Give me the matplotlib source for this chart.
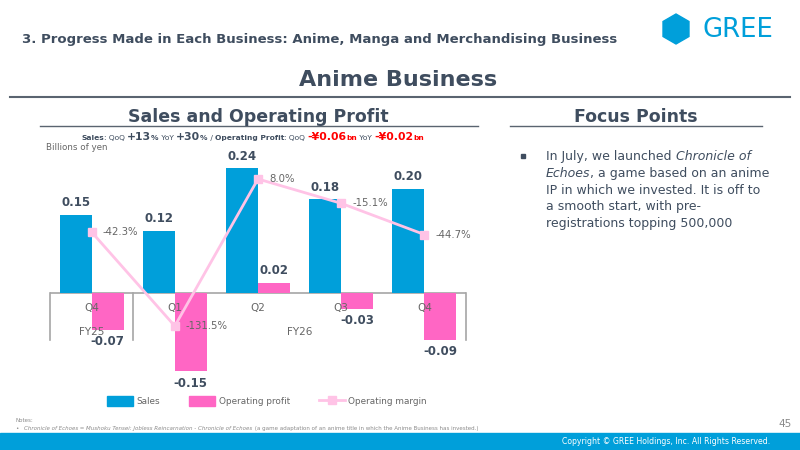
import matplotlib
matplotlib.use("Agg")
import matplotlib.pyplot as plt
from matplotlib.patches import RegularPolygon, Rectangle, Patch
from matplotlib.lines import Line2D

# Data
quarters = ["Q4", "Q1", "Q2", "Q3", "Q4"]
fiscal_years = ["FY25", "FY26"]
fy_groups = [[0], [1, 2, 3, 4]]
sales = [0.15, 0.12, 0.24, 0.18, 0.20]
op_profit = [-0.07, -0.15, 0.02, -0.03, -0.09]
op_margin = [-42.3, -131.5, 8.0, -15.1, -44.7]

DARK = "#3f4d5f"
GRAY = "#666666"
BLUE = "#009fda"
PINK = "#ff66c4"
LIGHT_PINK = "#ffc3e6"

plt.rcParams["font.family"] = ["DejaVu Sans"]

fig = plt.figure(figsize=(8, 4.5), dpi=100)

# slide background layer in pixel coordinates
bg = fig.add_axes([0, 0, 1, 1], zorder=0)
bg.set_xlim(0, 800)
bg.set_ylim(450, 0)
bg.axis("off")


def run_text(x, y, pieces):
    """draw a row of differently styled text pieces on one baseline"""
    renderer = fig.canvas.get_renderer()
    for s, kw in pieces:
        t = bg.text(x, y, s, va="baseline", ha="left", **kw)
        x += t.get_window_extent(renderer).width
    return x


# header
bg.text(22, 40, "3. Progress Made in Each Business: Anime, Manga and Merchandising Business",
        fontweight="bold", fontsize=9.5, color=DARK, va="center")
bg.add_patch(RegularPolygon((676, 29), 6, radius=15, color=BLUE))
bg.text(702, 37, "GREE", fontsize=18.7, color=BLUE, va="baseline")
bg.text(398, 80, "Anime Business", fontweight="bold", fontsize=16,
        color=DARK, ha="center", va="center")
bg.plot([10, 790], [97, 97], color="#5a6470", lw=1.5)

bg.text(258, 117, "Sales and Operating Profit", fontweight="bold", fontsize=12.5,
        color=DARK, ha="center", va="center")
bg.plot([40, 478], [126, 126], color="#5a6470", lw=1)
bg.text(636, 117, "Focus Points", fontweight="bold", fontsize=12.5,
        color=DARK, ha="center", va="center")
bg.plot([510, 762], [126, 126], color="#5a6470", lw=1)

small = dict(fontsize=5.4, color=DARK)
small_b = dict(fontsize=5.4, color=DARK, fontweight="bold")
big_b = dict(fontsize=7.8, color=DARK, fontweight="bold")
red_b = dict(fontsize=7.8, color="red", fontweight="bold")
red_s = dict(fontsize=5.4, color="red", fontweight="bold")
run_text(81, 140, [("Sales", small_b), (": QoQ ", small), ("+13", big_b), ("%", small_b),
                   (" YoY ", small), ("+30", big_b), ("%", small_b), (" / ", small),
                   ("Operating Profit", small_b), (": QoQ ", small), ("-¥0.06", red_b),
                   ("bn", red_s), (" YoY ", small), ("-¥0.02", red_b), ("bn", red_s)])
bg.text(46, 148, "Billions of yen", fontsize=6.3, color=GRAY, va="center")

# focus points
body = dict(fontsize=9, color=DARK)
body_i = dict(fontsize=9, color=DARK, style="italic")
bg.add_patch(Rectangle((521, 154), 4, 4, color=DARK))
run_text(546, 160, [("In July, we launched ", body), ("Chronicle of", body_i)])
run_text(546, 177, [("Echoes", body_i), (", a game based on an anime", body)])
run_text(546, 194, [("IP in which we invested. It is off to", body)])
run_text(546, 210, [("a smooth start, with pre-", body)])
run_text(546, 227, [("registrations topping 500,000", body)])

# notes and footer
note = dict(fontsize=4.0, color="#8a8a8a")
note_i = dict(fontsize=4.0, color="#8a8a8a", style="italic")
bg.text(15, 422, "Notes:", va="baseline", **note)
bg.text(15, 430, "\u2022", va="baseline", **note)
run_text(24, 430, [("Chronicle of Echoes", note_i), (" = ", note),
                   ("Mushoku Tensei: Jobless Reincarnation - Chronicle of Echoes", note_i),
                   (" (a game adaptation of an anime title in which the Anime Business has invested.)", note)])
bg.text(785, 424, "45", fontsize=7.5, color="#8a8a8a", ha="center", va="center")
bg.add_patch(Rectangle((0, 433), 800, 17, color=BLUE))
bg.text(770, 442, "Copyright \u00a9 GREE Holdings, Inc. All Rights Reserved.",
        fontsize=5.6, color="white", ha="right", va="center")

# chart
ax = fig.add_axes([50 / 800, 1 - 380 / 450, 416 / 800, 230 / 450], zorder=2)
ax.patch.set_visible(False)
x = list(range(len(quarters)))
w = 0.385
ax.bar([i - w / 2 for i in x], sales, w, color=BLUE, zorder=2)
ax.bar([i + w / 2 for i in x], op_profit, w, color=PINK, zorder=2)
ax.axhline(0, color="#a6a6a6", lw=1.2, zorder=1)
ax.set_xlim(-0.5, len(quarters) - 0.5)
ax.set_ylim(-0.167, 0.275)
ax.axis("off")

for i, v in enumerate(sales):
    ax.annotate(f"{v:.2f}", (i - w / 2, v), xytext=(0, 4), textcoords="offset points",
                ha="center", va="bottom", fontsize=8.5, fontweight="bold", color=DARK)
for i, v in enumerate(op_profit):
    if v >= 0:
        ax.annotate(f"{v:.2f}", (i + w / 2, v), xytext=(0, 4), textcoords="offset points",
                    ha="center", va="bottom", fontsize=8.5, fontweight="bold", color=DARK)
    else:
        ax.annotate(f"{v:.2f}", (i + w / 2, v), xytext=(0, -4), textcoords="offset points",
                    ha="center", va="top", fontsize=8.5, fontweight="bold", color=DARK)

# category axis: quarters and fiscal-year groups
for i, q in enumerate(quarters):
    ax.annotate(q, (i, 0), xytext=(0, -11), textcoords="offset points",
                ha="center", va="center", fontsize=7.5, color=GRAY, zorder=5)
for fy, grp in zip(fiscal_years, fy_groups):
    ax.annotate(fy, ((grp[0] + grp[-1]) / 2, 0), xytext=(0, -28), textcoords="offset points",
                ha="center", va="center", fontsize=7.5, color=GRAY, zorder=5)
edges = [-0.5] + [grp[-1] + 0.5 for grp in fy_groups]
for e in edges:
    ax.plot([e, e], [0, -0.09], color="#a6a6a6", lw=1.2, clip_on=False, zorder=1)

# operating margin on a hidden secondary axis
ax2 = ax.twinx()
ax2.set_ylim(-182.7, 35.5)
ax2.axis("off")
ax2.plot(x, op_margin, color=LIGHT_PINK, lw=2, marker="s", markersize=6, zorder=3)
for i, v in enumerate(op_margin):
    ax2.annotate(f"{v:.1f}%", (i, v), xytext=(8, 0), textcoords="offset points",
                 ha="left", va="center", fontsize=7.3, color=GRAY)

handles = [Patch(color=BLUE, label="Sales"),
           Patch(color=PINK, label="Operating profit"),
           Line2D([], [], color=LIGHT_PINK, lw=2, marker="s", markersize=6, label="Operating margin")]
fig.legend(handles=handles, loc="center", bbox_to_anchor=(267 / 800, 1 - 401 / 450), ncol=3,
           frameon=False, fontsize=6.4, labelcolor=GRAY, handlelength=2.9, handleheight=1.3,
           columnspacing=3.3, handletextpad=0.4)

fig.savefig("out.png", dpi=100)
